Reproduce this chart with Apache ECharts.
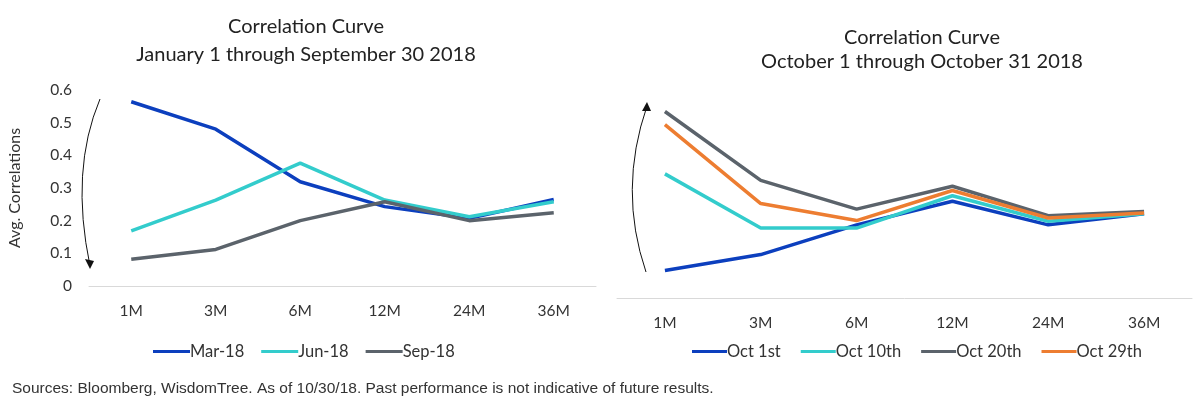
<!DOCTYPE html>
<html>
<head>
<meta charset="utf-8">
<script src="https://cdn.jsdelivr.net/npm/echarts@6/dist/echarts.min.js"></script>
<style>
  html, body { margin: 0; padding: 0; background: #fff; }
  #chart { width: 1200px; height: 407px; }
</style>
</head>
<body>
<div id="chart"></div>
<script>
var tenors = ['1M', '3M', '6M', '12M', '24M', '36M'];

// left panel: Jan 1 - Sep 30 2018
var mar18 = [0.564, 0.480, 0.319, 0.243, 0.207, 0.265];
var jun18 = [0.169, 0.263, 0.376, 0.263, 0.212, 0.258];
var sep18 = [0.082, 0.112, 0.200, 0.258, 0.200, 0.224];

// right panel: Oct 1 - Oct 31 2018
var oct1 = [0.084, 0.133, 0.224, 0.296, 0.224, 0.258];
var oct10 = [0.380, 0.214, 0.214, 0.313, 0.235, 0.258];
var oct20 = [0.571, 0.360, 0.272, 0.342, 0.252, 0.265];
var oct29 = [0.531, 0.289, 0.237, 0.329, 0.245, 0.260];

var yTicks = [0, 0.1, 0.2, 0.3, 0.4, 0.5, 0.6];

var BLUE = '#0c3fbe', CYAN = '#33cccc', GRAY = '#5b636b', ORANGE = '#ed7d31';
var FONT = 'Lato';

function line(name, data, color, idx) {
  return {
    name: name, type: 'line', data: data,
    xAxisIndex: idx, yAxisIndex: idx,
    symbol: 'none',
    lineStyle: { width: 3.5, color: color },
    itemStyle: { color: color }
  };
}

var catAxis = function (idx) {
  return {
    type: 'category', gridIndex: idx, data: tenors,
    axisTick: { show: false },
    axisLine: { lineStyle: { color: '#d9d9d9', width: 1 } },
    axisLabel: { color: '#333', fontFamily: FONT, fontSize: 15.5, margin: 17 }
  };
};

var legendText = { fontFamily: FONT, fontSize: 16.5, color: '#333', padding: [0, 0, 0, -5] };

var option = {
  animation: false,
  textStyle: { fontFamily: FONT },
  title: [
    {
      text: 'Correlation Curve\nJanuary 1 through September 30 2018',
      left: 301, top: 8, textAlign: 'center',
      textStyle: { fontFamily: FONT, fontSize: 20, fontWeight: 'normal', color: '#222', lineHeight: 28 }
    },
    {
      text: 'Correlation Curve\nOctober 1 through October 31 2018',
      left: 917, top: 21, textAlign: 'center',
      textStyle: { fontFamily: FONT, fontSize: 20, fontWeight: 'normal', color: '#222', lineHeight: 24 }
    }
  ],
  legend: [
    {
      data: ['Mar-18', 'Jun-18', 'Sep-18'],
      left: 148, top: 338, icon: 'rect', itemWidth: 37, itemHeight: 3, itemGap: 17,
      textStyle: legendText
    },
    {
      data: ['Oct 1st', 'Oct 10th', 'Oct 20th', 'Oct 29th'],
      left: 687, top: 338, icon: 'rect', itemWidth: 35, itemHeight: 3, itemGap: 20,
      textStyle: legendText
    }
  ],
  grid: [
    { left: 89, right: 604, top: 90, bottom: 121 },
    { left: 617, right: 8, top: 102, bottom: 109 }
  ],
  xAxis: [catAxis(0), catAxis(1)],
  yAxis: [
    {
      type: 'value', gridIndex: 0, min: 0, max: 0.6, interval: 0.1,
      name: 'Avg. Correlations', nameLocation: 'middle', nameGap: 66,
      nameTextStyle: { fontFamily: FONT, fontSize: 16, color: '#333' },
      axisLine: { show: false }, axisTick: { show: false },
      splitLine: { show: false },
      axisLabel: {
        color: '#333', fontFamily: FONT, fontSize: 15.5, margin: 17,
        formatter: function (v) { return yTicks.indexOf(Math.round(v * 10) / 10) >= 0 ? String(Math.round(v * 10) / 10) : ''; }
      }
    },
    {
      type: 'value', gridIndex: 1, min: 0, max: 0.6, interval: 0.1,
      axisLine: { show: false }, axisTick: { show: false },
      splitLine: { show: false }, axisLabel: { show: false }
    }
  ],
  series: [
    line('Mar-18', mar18, BLUE, 0),
    line('Jun-18', jun18, CYAN, 0),
    line('Sep-18', sep18, GRAY, 0),
    line('Oct 1st', oct1, BLUE, 1),
    line('Oct 10th', oct10, CYAN, 1),
    line('Oct 20th', oct20, GRAY, 1),
    line('Oct 29th', oct29, ORANGE, 1)
  ],
  graphic: [
    // curved arrow, left panel (pointing down)
    {
      type: 'bezierCurve',
      shape: { x1: 100, y1: 99, x2: 90, y2: 266, cpx1: 70, cpy1: 170 },
      style: { stroke: '#111', lineWidth: 1, fill: null }
    },
    {
      type: 'polygon',
      shape: { points: [[90, 269], [85, 259], [94, 261]] },
      style: { fill: '#111' }
    },
    // curved arrow, right panel (pointing up)
    {
      type: 'bezierCurve',
      shape: { x1: 646, y1: 272, x2: 647, y2: 106, cpx1: 618, cpy1: 190 },
      style: { stroke: '#111', lineWidth: 1, fill: null }
    },
    {
      type: 'polygon',
      shape: { points: [[647, 102], [642, 111], [651, 111]] },
      style: { fill: '#111' }
    },
    {
      type: 'text', left: 12, top: 381,
      style: {
        text: 'Sources: Bloomberg, WisdomTree. As of 10/30/18. Past performance is not indicative of future results.',
        font: '15.5px "Liberation Sans"', fill: '#333'
      }
    }
  ]
};

var myChart = echarts.init(document.getElementById('chart'));
myChart.setOption(option);
</script>
</body>
</html>
